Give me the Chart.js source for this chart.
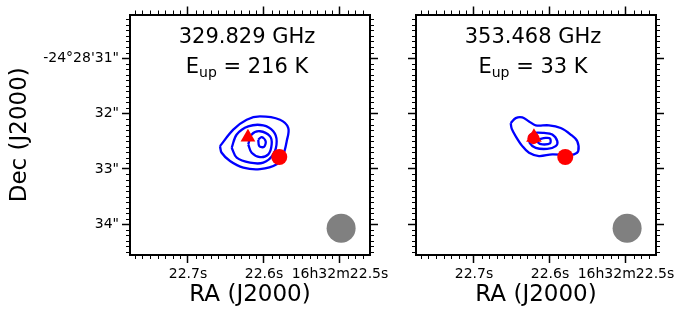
<!DOCTYPE html>
<html>
<head>
<meta charset="utf-8">
<script src="https://cdn.jsdelivr.net/npm/chart.js@4/dist/chart.umd.min.js"></script>
<style>
  html, body { margin: 0; padding: 0; background: #fff; }
  #wrap { position: relative; width: 680px; height: 310px; }
  #wrap canvas { position: absolute; top: 0; }
</style>
</head>
<body>
<div id="wrap">
  <canvas id="panelA" width="400" height="310" style="left:0px"></canvas>
  <canvas id="panelB" width="280" height="310" style="left:400px"></canvas>
</div>
<script>
"use strict";

// Axis ranges and tick labels (RA in seconds of 16h32m, Dec in arcsec of -24d28m)
const RA_MIN = 22.4605;
const RA_MAX = 22.7763;
const DEC_MIN = 30.214;
const DEC_MAX = 34.554;
const RA_TICKS = [22.5, 22.6, 22.7];
const RA_LABELS = ['16h32m22.5s', '22.6s', '22.7s'];
const DEC_TICKS = [31, 32, 33, 34];
const DEC_LABELS = ['-24°28\'31"', '32"', '33"', '34"'];

// Panel captions
const FREQS = ['329.829', '353.468'];
const EUPS = ['216', '33'];

// Contours, 329.829 GHz  [RA s, Dec "]
const c329_lvl1 = [[22.6579, 32.589], [22.6404, 32.291], [22.6228, 32.113], [22.6053, 32.054],
  [22.5789, 32.113], [22.5680, 32.263], [22.5701, 32.500], [22.5746, 32.738], [22.5833, 32.916],
  [22.6053, 33.005], [22.6272, 32.977], [22.6447, 32.857], [22.6557, 32.709]];
const c329_lvl2 = [[22.6425, 32.620], [22.6359, 32.380], [22.6207, 32.232], [22.6009, 32.214],
  [22.5878, 32.321], [22.5833, 32.500], [22.5878, 32.738], [22.6009, 32.888], [22.6184, 32.888],
  [22.6359, 32.798]];
const c329_lvl3 = [[22.6207, 32.559], [22.6162, 32.380], [22.6053, 32.321], [22.5921, 32.411],
  [22.5899, 32.559], [22.5943, 32.738], [22.6053, 32.786], [22.6162, 32.709]];
const c329_lvl4 = [[22.6075, 32.470], [22.6030, 32.429], [22.5978, 32.500], [22.6000, 32.602],
  [22.6062, 32.589]];

// Contours, 353.468 GHz
const c353_lvl1 = [[22.6517, 32.173], [22.6451, 32.084], [22.6364, 32.071], [22.6276, 32.143],
  [22.6188, 32.214], [22.6013, 32.214], [22.5859, 32.263], [22.5728, 32.380], [22.5641, 32.500],
  [22.5628, 32.679], [22.5684, 32.738], [22.5793, 32.750], [22.5970, 32.738], [22.6145, 32.768],
  [22.6276, 32.709], [22.6364, 32.589], [22.6451, 32.411], [22.6504, 32.273]];
const c353_lvl2 = [[22.6276, 32.411], [22.6211, 32.352], [22.6079, 32.352], [22.5970, 32.380],
  [22.5904, 32.500], [22.5925, 32.589], [22.6036, 32.638], [22.6188, 32.620], [22.6267, 32.530]];
const c353_lvl3 = [[22.6154, 32.470], [22.6057, 32.441], [22.6000, 32.452], [22.6000, 32.541],
  [22.6101, 32.559], [22.6154, 32.530]];

// Source positions and beam
const TRIANGLE_POS = [22.6211, 32.429];
const CIRCLE_POS = [22.5799, 32.786];
const SMALL_CIRCLE_POS = [22.6217, 32.445];
const BEAM_POS = [22.4985, 34.072];

const FONT = '"DejaVu Sans", "Liberation Sans", sans-serif';


// draws the short minor ticks on all four sides
const minorTicksPlugin = {
  id: 'minorTicks',
  afterDraw: function(_chart) {
    let _ctx = _chart.ctx;
    let _a = _chart.chartArea;
    let _x = _chart.scales.x;
    let _y = _chart.scales.y;
    _ctx.save();
    _ctx.strokeStyle = '#000';
    _ctx.lineWidth = 1;
    _ctx.beginPath();
    for (let _k = Math.ceil(_x.min * 100); _k <= Math.floor(_x.max * 100); _k++) {
      if (_k % 10 === 0) continue;
      let _px = Math.round(_x.getPixelForValue(_k / 100)) + 0.5;
      _ctx.moveTo(_px, _a.bottom); _ctx.lineTo(_px, _a.bottom + 4);
      _ctx.moveTo(_px, _a.top); _ctx.lineTo(_px, _a.top - 4);
    }
    for (let _k = Math.ceil(_y.min * 10); _k <= Math.floor(_y.max * 10); _k++) {
      if (_k % 10 === 0) continue;
      let _py = Math.round(_y.getPixelForValue(_k / 10)) + 0.5;
      _ctx.moveTo(_a.left, _py); _ctx.lineTo(_a.left - 4, _py);
      _ctx.moveTo(_a.right, _py); _ctx.lineTo(_a.right + 4, _py);
    }
    _ctx.stroke();
    _ctx.restore();
  }
};

// caption inside the panel: frequency and E_up with subscript
const captionPlugin = {
  id: 'caption',
  afterDraw: function(_chart, _args, _opts) {
    let _ctx = _chart.ctx;
    let _a = _chart.chartArea;
    let _cx = (_a.left + _a.right) / 2 - 3;
    _ctx.save();
    _ctx.fillStyle = '#000';
    _ctx.textBaseline = 'alphabetic';
    _ctx.font = '21px ' + FONT;
    _ctx.textAlign = 'center';
    _ctx.fillText(_opts.freq + ' GHz', _cx, _a.top + 28);

    let _big = '21px ' + FONT;
    let _small = '14px ' + FONT;
    let _rest = ' = ' + _opts.eup + ' K';
    _ctx.font = _big;
    let _wE = _ctx.measureText('E').width;
    let _wRest = _ctx.measureText(_rest).width;
    _ctx.font = _small;
    let _wSub = _ctx.measureText('up').width;
    let _x0 = _cx - (_wE + _wSub + _wRest) / 2;
    let _base = _a.top + 58;
    _ctx.textAlign = 'left';
    _ctx.font = _big;
    _ctx.fillText('E', _x0, _base);
    _ctx.font = _small;
    _ctx.fillText('up', _x0 + _wE, _base + 4);
    _ctx.font = _big;
    _ctx.fillText(_rest, _x0 + _wE + _wSub, _base);
    _ctx.restore();
  }
};


function pt(_p) { return {x: _p[0], y: _p[1]}; }

function contourSets(_levels) {
  return _levels.map(function(_pts) {
    return {
      data: _pts.concat([_pts[0]]).map(pt),
      showLine: true,
      borderColor: '#0000ff',
      borderWidth: 2.3,
      pointRadius: 0,
      tension: 0.35,
      order: 5
    };
  });
}

function markerSet(_p, _style, _radius, _color, _order) {
  return {
    data: [pt(_p)],
    pointStyle: _style,
    pointRadius: _radius,
    pointBackgroundColor: _color,
    pointBorderWidth: 0,
    borderColor: _color,
    showLine: false,
    order: _order
  };
}

function makeScales(_opts) {
  let _tickFont = {family: FONT, size: 14};
  let _grid = {drawOnChartArea: false, drawTicks: true, tickLength: 8, tickColor: '#000', tickWidth: 1.5};
  let _border = {display: true, color: '#000', width: 2};
  let _raTicks = function(_s) { _s.ticks = RA_TICKS.map(function(_v) { return {value: _v}; }); };
  let _decTicks = function(_s) { _s.ticks = DEC_TICKS.map(function(_v) { return {value: _v}; }); };

  return {
    x: {
      type: 'linear', axis: 'x', position: 'bottom', reverse: true, min: RA_MIN, max: RA_MAX,
      afterBuildTicks: _raTicks,
      afterFit: function(_s) { _s.height = 55; },
      ticks: {
        font: _tickFont, color: '#000', padding: 3, maxRotation: 0, autoSkip: false,
        callback: function(_v, _i) { return RA_LABELS[_i]; }
      },
      grid: _grid, border: _border,
      title: {display: true, text: 'RA (J2000)', color: '#000', font: {family: FONT, size: 23}, padding: {top: 0, bottom: 1}}
    },
    x2: {
      type: 'linear', axis: 'x', position: 'top', reverse: true, min: RA_MIN, max: RA_MAX,
      afterBuildTicks: _raTicks,
      afterFit: function(_s) { _s.height = 12; },
      ticks: {display: false},
      grid: _grid, border: _border
    },
    y: {
      type: 'linear', axis: 'y', position: 'left', reverse: true, min: DEC_MIN, max: DEC_MAX,
      afterBuildTicks: _decTicks,
      afterFit: function(_s) { _s.width = _opts.leftWidth; },
      ticks: {
        display: _opts.decLabels, font: _tickFont, color: '#000', padding: 3, autoSkip: false,
        callback: function(_v, _i) { return DEC_LABELS[_i]; }
      },
      grid: _grid, border: _border,
      title: {display: _opts.decLabels, text: 'Dec (J2000)', color: '#000', font: {family: FONT, size: 23}, padding: {top: 6, bottom: 0}}
    },
    y2: {
      type: 'linear', axis: 'y', position: 'right', reverse: true, min: DEC_MIN, max: DEC_MAX,
      afterBuildTicks: _decTicks,
      afterFit: function(_s) { _s.width = _opts.rightWidth; },
      ticks: {display: false},
      grid: _grid, border: _border
    }
  };
}

function makePanel(_canvasId, _datasets, _caption, _scaleOpts) {
  return new Chart(document.getElementById(_canvasId), {
    type: 'scatter',
    data: {datasets: _datasets},
    options: {
      responsive: false,
      animation: false,
      devicePixelRatio: 1,
      layout: {padding: 0},
      plugins: {
        legend: {display: false},
        tooltip: {enabled: false},
        caption: _caption
      },
      scales: makeScales(_scaleOpts)
    },
    plugins: [minorTicksPlugin, captionPlugin]
  });
}


let _setsA = [
  markerSet(CIRCLE_POS, 'circle', 8, '#ff0000', 1),
  markerSet(TRIANGLE_POS, 'triangle', 8.5, '#ff0000', 2),
  markerSet(BEAM_POS, 'circle', 14.5, '#808080', 3)
].concat(contourSets([c329_lvl1, c329_lvl2, c329_lvl3, c329_lvl4]));

let _setsB = [
  markerSet(CIRCLE_POS, 'circle', 8, '#ff0000', 1),
  markerSet(SMALL_CIRCLE_POS, 'circle', 6, '#ff0000', 1),
  markerSet(TRIANGLE_POS, 'triangle', 9, '#ff0000', 2),
  markerSet(BEAM_POS, 'circle', 14.5, '#808080', 3)
].concat(contourSets([c353_lvl1, c353_lvl2, c353_lvl3]));

makePanel('panelA', _setsA, {freq: FREQS[0], eup: EUPS[0]}, {decLabels: true, leftWidth: 130, rightWidth: 30});
makePanel('panelB', _setsB, {freq: FREQS[1], eup: EUPS[1]}, {decLabels: false, leftWidth: 16, rightWidth: 24});
</script>
</body>
</html>
